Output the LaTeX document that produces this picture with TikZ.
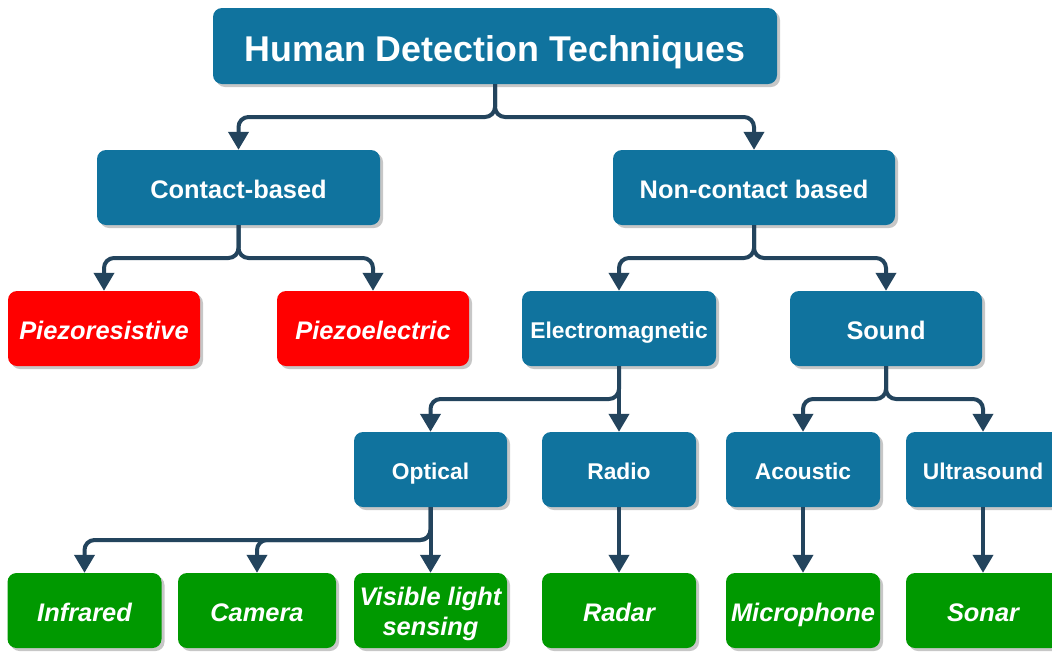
\documentclass[tikz,border=0pt]{standalone}
\usepackage{fontspec}
\setmainfont{Liberation Sans}
\usetikzlibrary{arrows.meta,shadows}
\definecolor{bluebox}{HTML}{10739E}
\definecolor{redbox}{HTML}{FF0000}
\definecolor{greenbox}{HTML}{009900}
\definecolor{edgecol}{HTML}{23445D}
\tikzset{
  box/.style={rectangle, rounded corners=9pt, minimum height=75pt, inner sep=0pt,
    text=white, align=center,
    drop shadow={shadow xshift=3pt, shadow yshift=-3pt, fill=black, opacity=0.22}},
  onebig/.style={text height=21.2pt, text depth=0pt},
  onemid/.style={text height=19.3pt, text depth=0pt},
  bluenode/.style={box, fill=bluebox},
  rednode/.style={box, onebig, fill=redbox, font=\fontsize{25.4}{30}\selectfont\bfseries\itshape},
  greennode/.style={box, fill=greenbox, font=\fontsize{25.4}{30}\selectfont\bfseries\itshape},
  bigtxt/.style={onebig, font=\fontsize{25.4}{30}\selectfont\bfseries},
  midtxt/.style={onemid, font=\fontsize{22.8}{27}\selectfont\bfseries},
  conn/.style={draw=edgecol, line width=4pt, rounded corners=10pt,
    -{Triangle[width=20pt,length=18pt]}}
}
\begin{document}
\begin{tikzpicture}[x=1pt,y=-1pt]
\clip (0,0) rectangle (1052,651);
\fill[white] (0,0) rectangle (1052,651);
% rows for connector horizontals
\coordinate (r1) at (0,117);
\coordinate (r2) at (0,258);
\coordinate (r3) at (0,399);
\coordinate (r4) at (0,540);
% nodes
\node[bluenode, minimum width=564pt, minimum height=76pt, text height=30.6pt, text depth=0pt, font=\fontsize{35.8}{42}\selectfont\bfseries] (title) at (495,46) {Human Detection Techniques};
\node[bluenode, bigtxt, minimum width=283pt] (contact) at (238.5,187.5) {Contact-based};
\node[bluenode, bigtxt, minimum width=282pt] (noncontact) at (754,187.5) {Non-contact based};
\node[rednode, minimum width=192pt] (piezor) at (104,328.5) {Piezoresistive};
\node[rednode, minimum width=192pt] (piezoe) at (373,328.5) {Piezoelectric};
\node[bluenode, midtxt, minimum width=194pt] (em) at (619,328.5) {Electromagnetic};
\node[bluenode, bigtxt, minimum width=192pt] (sound) at (886,328.5) {Sound};
\node[bluenode, midtxt, minimum width=153pt] (optical) at (430.5,469.5) {Optical};
\node[bluenode, midtxt, minimum width=154pt] (radio) at (619,469.5) {Radio};
\node[bluenode, midtxt, minimum width=154pt] (acoustic) at (803,469.5) {Acoustic};
\node[bluenode, midtxt, minimum width=154pt] (ultra) at (983,469.5) {Ultrasound};
\node[greennode, onebig, minimum width=154pt] (infrared) at (84.5,610.5) {Infrared};
\node[greennode, onebig, minimum width=158pt] (camera) at (257,610.5) {Camera};
\node[greennode, minimum width=153pt] (visible) at (430.5,610.5) {\raisebox{-9.85pt}[0pt][0pt]{\begin{tabular}{@{}c@{}}Visible light\\sensing\end{tabular}}};
\node[greennode, onebig, minimum width=154pt] (radar) at (619,610.5) {Radar};
\node[greennode, onebig, minimum width=154pt] (micro) at (803,610.5) {Microphone};
\node[greennode, onebig, minimum width=154pt] (sonar) at (983,610.5) {Sonar};
% connectors
\draw[conn] (title.south) -- (title.south |- r1) -| (contact.north);
\draw[conn] (title.south) -- (title.south |- r1) -| (noncontact.north);
\draw[conn] (contact.south) -- (contact.south |- r2) -| (piezor.north);
\draw[conn] (contact.south) -- (contact.south |- r2) -| (piezoe.north);
\draw[conn] (noncontact.south) -- (noncontact.south |- r2) -| (em.north);
\draw[conn] (noncontact.south) -- (noncontact.south |- r2) -| (sound.north);
\draw[conn] (em.south) -- (em.south |- r3) -| (optical.north);
\draw[conn] (em.south) -- (radio.north);
\draw[conn] (sound.south) -- (sound.south |- r3) -| (acoustic.north);
\draw[conn] (sound.south) -- (sound.south |- r3) -| (ultra.north);
\draw[conn] (optical.south) -- (optical.south |- r4) -| (infrared.north);
\draw[conn] (optical.south) -- (optical.south |- r4) -| (camera.north);
\draw[conn] (optical.south) -- (visible.north);
\draw[conn] (radio.south) -- (radar.north);
\draw[conn] (acoustic.south) -- (micro.north);
\draw[conn] (ultra.south) -- (sonar.north);
\end{tikzpicture}
\end{document}
